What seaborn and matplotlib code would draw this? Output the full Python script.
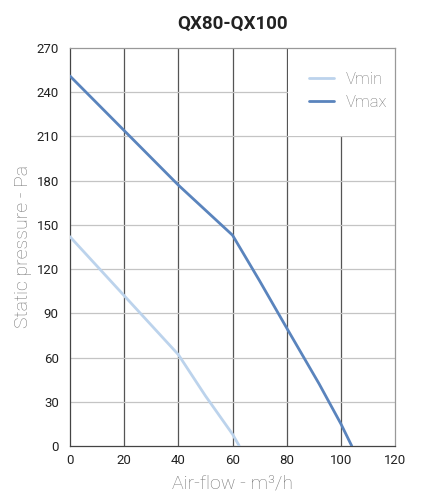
import pandas as pd
import matplotlib
matplotlib.use("Agg")
import matplotlib.pyplot as plt
from matplotlib.patches import Rectangle
import seaborn as sns

# curve points
vmin_flow = [0, 20, 40, 50, 60, 62.5]
vmin_pressure = [142, 102, 62, 34, 8, 0]
vmax_flow = [0, 20, 40, 60, 70, 80, 92, 100, 104]
vmax_pressure = [251, 214, 177, 143, 112, 80, 42, 15, 0]

series = ["Vmin", "Vmax"]
colors = ["#bcd3ec", "#5a84bd"]
xticks = [0, 20, 40, 60, 80, 100, 120]
yticks = [0, 30, 60, 90, 120, 150, 180, 210, 240, 270]

data = pd.concat([
    pd.DataFrame({"flow": vmin_flow, "pressure": vmin_pressure, "curve": "Vmin"}),
    pd.DataFrame({"flow": vmax_flow, "pressure": vmax_pressure, "curve": "Vmax"}),
])

sns.set_style("white")
plt.rcParams['font.family'] = ['Roboto', 'DejaVu Sans']

fig = plt.figure(figsize=(4.4, 5.0), dpi=100)
ax = fig.add_axes([0.159, 0.108, 0.739, 0.796])

sns.lineplot(data=data, x="flow", y="pressure", hue="curve", hue_order=series,
             palette=dict(zip(series, colors)), linewidth=2, sort=False,
             estimator=None, ax=ax, zorder=3)

ax.set_xlim(0, 120)
ax.set_ylim(0, 270)
ax.set_xticks(xticks)
ax.set_yticks(yticks)

# dark verticals, light horizontals
for x in xticks[1:-1]:
    ax.axvline(x, color="#555555", lw=0.9, zorder=0)
for y in yticks[1:-1]:
    ax.axhline(y, color="#c4c4c4", lw=0.9, zorder=0)

# white box behind the legend hides the grid there
ax.add_patch(Rectangle((80.4, 210.6), 39.6, 59.4, facecolor="white", edgecolor="none", zorder=1))

ax.spines['left'].set_color("#444444")
ax.spines['bottom'].set_color("#444444")
ax.spines['top'].set_color("#999999")
ax.spines['right'].set_color("#999999")
for s in ax.spines.values():
    s.set_linewidth(0.9)

ax.tick_params(axis='y', length=4, color="#aaaaaa", labelsize=9.5, labelcolor="#222222", pad=4)
ax.tick_params(axis='x', length=0, labelsize=9.5, labelcolor="#222222", pad=6)

ax.set_xlabel("Air-flow - m³/h", fontsize=14, color="#777777", fontweight="light", labelpad=5)
ax.set_ylabel("Static pressure - Pa", fontsize=14, color="#777777", fontweight="light", labelpad=3)
ax.set_title("QX80-QX100", fontsize=13.5, fontweight="bold", color="#222222", pad=14)

leg = ax.legend(loc="upper right", bbox_to_anchor=(0.975, 0.94), fontsize=12,
                frameon=False, handlelength=1.5, handletextpad=0.7, labelspacing=0.5,
                borderpad=0, borderaxespad=0)
leg.set_zorder(4)
for t in leg.get_texts():
    t.set_color("#777777")
    t.set_fontweight("light")

fig.savefig("out.png", dpi=100)
